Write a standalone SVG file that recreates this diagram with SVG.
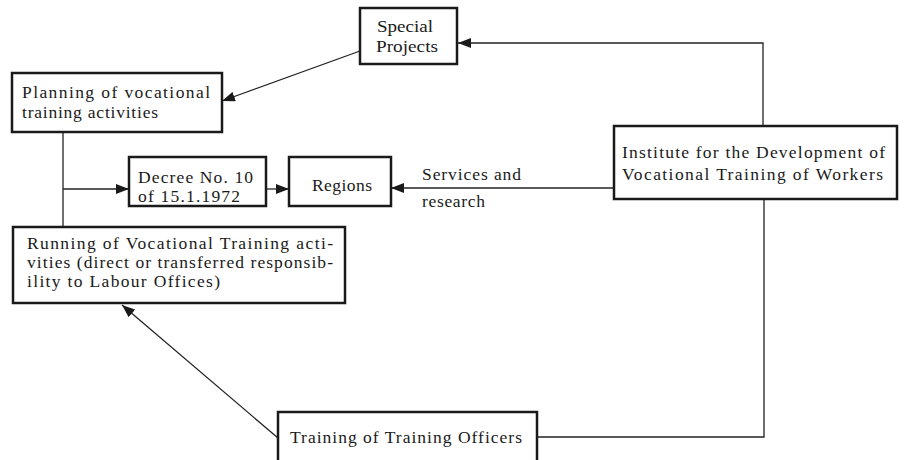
<svg xmlns="http://www.w3.org/2000/svg" width="904" height="460" viewBox="0 0 904 460">
<style>
.box{fill:#fff;stroke:#1a1a1a;stroke-width:2.5}
.t{font-family:"Liberation Serif","Times New Roman",serif;font-size:17.5px;fill:#1a1a1a}
.c{fill:none;stroke:#222;stroke-width:1.3}
</style>
<defs>
<marker id="ah" markerUnits="userSpaceOnUse" markerWidth="14" markerHeight="10" refX="13" refY="5" orient="auto">
<path d="M0,0 L13,5 L0,10 Z" fill="#1a1a1a"/>
</marker>
</defs>
<rect width="904" height="460" fill="#fff"/>
<g id="connectors">
<path class="c" d="M763,127 V43 H458" marker-end="url(#ah)"/>
<path class="c" d="M360,51 L222,101" marker-end="url(#ah)"/>
<path class="c" d="M63,132 V228"/>
<path class="c" d="M63,189 H129" marker-end="url(#ah)"/>
<path class="c" d="M266,189 H289" marker-end="url(#ah)"/>
<path class="c" d="M614,188 H391" marker-end="url(#ah)"/>
<path class="c" d="M537,437 H764 V199"/>
<path class="c" d="M278,438 L122,305" marker-end="url(#ah)"/>
</g>
<g id="special-projects">
<rect class="box" x="360" y="8" width="97" height="56"/>
<text class="t" x="377" y="32" textLength="56" lengthAdjust="spacingAndGlyphs">Special</text>
<text class="t" x="376" y="52" textLength="62" lengthAdjust="spacingAndGlyphs">Projects</text>
</g>
<g id="planning">
<rect class="box" x="12" y="73" width="210" height="59"/>
<text class="t" x="22" y="98" textLength="188" lengthAdjust="spacing">Planning of vocational</text>
<text class="t" x="22" y="118" textLength="136" lengthAdjust="spacing">training activities</text>
</g>
<g id="decree">
<rect class="box" x="129" y="157" width="137" height="49"/>
<text class="t" x="138" y="183" textLength="115" lengthAdjust="spacing">Decree No. 10</text>
<text class="t" x="138" y="202" textLength="102" lengthAdjust="spacing">of 15.1.1972</text>
</g>
<g id="regions">
<rect class="box" x="289" y="157" width="102" height="49"/>
<text class="t" x="312" y="191" textLength="60" lengthAdjust="spacing">Regions</text>
</g>
<g id="services-label">
<text class="t" x="422" y="180" textLength="99" lengthAdjust="spacing">Services and</text>
<text class="t" x="422" y="207" textLength="63" lengthAdjust="spacing">research</text>
</g>
<g id="institute">
<rect class="box" x="614" y="126" width="283" height="73"/>
<text class="t" x="622" y="158" textLength="263" lengthAdjust="spacing">Institute for the Development of</text>
<text class="t" x="622" y="180" textLength="261" lengthAdjust="spacing">Vocational Training of Workers</text>
</g>
<g id="running">
<rect class="box" x="13" y="227" width="332" height="76"/>
<text class="t" x="27" y="249" textLength="306" lengthAdjust="spacing">Running of Vocational Training acti-</text>
<text class="t" x="27" y="268" textLength="306" lengthAdjust="spacing">vities (direct or transferred responsib-</text>
<text class="t" x="27" y="287" textLength="193" lengthAdjust="spacing">ility to Labour Offices)</text>
</g>
<g id="training-officers">
<rect class="box" x="278" y="412" width="259" height="60"/>
<text class="t" x="290" y="443" textLength="232" lengthAdjust="spacing">Training of Training Officers</text>
</g>
</svg>
